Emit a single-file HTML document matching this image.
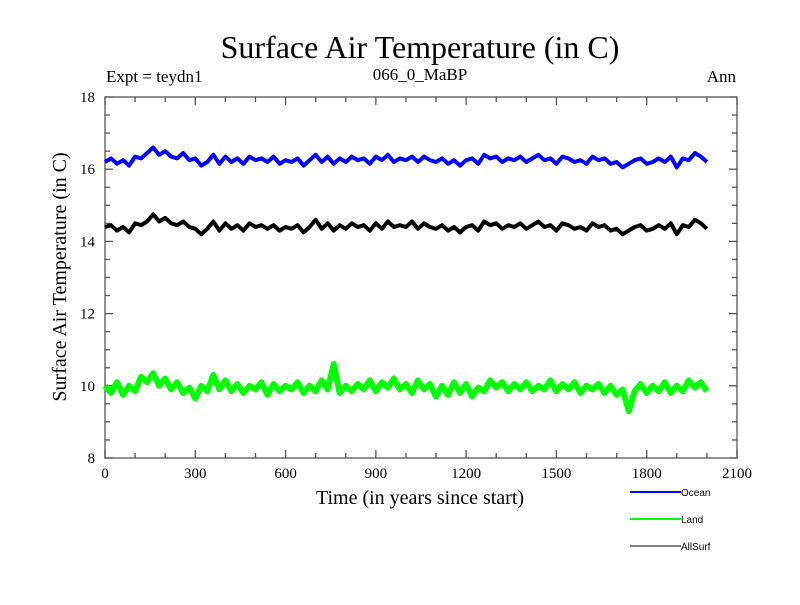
<!DOCTYPE html>
<html><head><meta charset="utf-8"><style>
body{margin:0;background:#fff}
svg text{font-family:"Liberation Serif",serif}
</style></head><body>
<svg id="chart" width="800" height="600" xmlns="http://www.w3.org/2000/svg">
<text x="420" y="58" font-size="32" text-anchor="middle">Surface Air Temperature (in C)</text>
<text x="106" y="82" font-size="17">Expt = teydn1</text>
<text x="420" y="80" font-size="17" text-anchor="middle">066_0_MaBP</text>
<text x="736" y="82" font-size="17" text-anchor="end">Ann</text>
<text x="0" y="0" font-size="20" text-anchor="middle" transform="translate(66,277) rotate(-90)">Surface Air Temperature (in C)</text>
<text x="420" y="504" font-size="20" text-anchor="middle">Time (in years since start)</text>
<g id="axes"></g>
<g id="series"></g>
<g id="legend"></g>
</svg>
<script>
const years = [];
for (let i = 0; i <= 100; i++) years.push(i * 20);
const oceanValues = [16.2,16.3,16.15,16.25,16.1,16.35,16.3,16.45,16.6,16.4,16.5,16.35,16.3,16.45,16.25,16.3,16.1,16.2,16.4,16.15,16.35,16.2,16.3,16.15,16.35,16.25,16.3,16.2,16.35,16.15,16.25,16.2,16.3,16.1,16.25,16.4,16.2,16.35,16.15,16.3,16.2,16.35,16.25,16.3,16.15,16.35,16.25,16.4,16.2,16.3,16.25,16.35,16.2,16.35,16.25,16.2,16.3,16.15,16.25,16.1,16.25,16.3,16.15,16.4,16.3,16.35,16.2,16.3,16.25,16.35,16.2,16.3,16.4,16.25,16.3,16.15,16.35,16.3,16.2,16.25,16.15,16.35,16.25,16.3,16.15,16.2,16.05,16.15,16.25,16.3,16.15,16.2,16.3,16.2,16.35,16.05,16.3,16.25,16.45,16.35,16.2];
const allSurfValues = [14.4,14.45,14.3,14.4,14.25,14.5,14.45,14.55,14.75,14.55,14.65,14.5,14.45,14.55,14.4,14.35,14.2,14.35,14.55,14.3,14.5,14.35,14.45,14.3,14.5,14.4,14.45,14.35,14.45,14.3,14.4,14.35,14.45,14.25,14.4,14.6,14.35,14.5,14.3,14.45,14.35,14.5,14.4,14.45,14.3,14.5,14.35,14.55,14.4,14.45,14.4,14.55,14.35,14.5,14.4,14.35,14.45,14.3,14.4,14.25,14.4,14.45,14.3,14.55,14.45,14.5,14.35,14.45,14.4,14.5,14.35,14.45,14.55,14.4,14.45,14.3,14.5,14.45,14.35,14.4,14.3,14.5,14.4,14.45,14.3,14.35,14.2,14.3,14.4,14.45,14.3,14.35,14.45,14.35,14.5,14.2,14.45,14.4,14.6,14.5,14.35];
const landValues = [10.0,9.8,10.1,9.75,10.0,9.85,10.25,10.1,10.35,10.0,10.2,9.9,10.1,9.8,9.95,9.65,10.0,9.85,10.3,9.9,10.15,9.85,10.05,9.8,10.0,9.9,10.1,9.75,10.05,9.85,10.0,9.9,10.1,9.8,10.0,9.85,10.15,9.9,10.6,9.8,10.0,9.85,10.05,9.9,10.15,9.85,10.1,9.95,10.2,9.9,10.05,9.8,10.15,9.9,10.05,9.7,10.0,9.75,10.1,9.8,10.05,9.7,9.95,9.85,10.15,9.95,10.1,9.85,10.05,9.9,10.1,9.85,10.0,9.9,10.15,9.85,10.05,9.9,10.1,9.8,10.0,9.9,10.05,9.8,10.0,9.75,9.9,9.3,9.85,10.05,9.8,10.0,9.85,10.1,9.8,10.0,9.85,10.15,9.95,10.1,9.85];
const xTickLabels = [0,300,600,900,1200,1500,1800,2100];
const yTickLabels = [8,10,12,14,16,18];

const L=105,R=737,T=97,B=458;
const xScale = v => L + (v/2100)*(R-L);
const yScale = v => B - ((v-8)/10)*(B-T);
const NS="http://www.w3.org/2000/svg";
function mk(tag, attrs, parent){const e=document.createElementNS(NS,tag);for(const k in attrs)e.setAttribute(k,attrs[k]);parent.appendChild(e);return e;}
const axes=document.getElementById('axes');
const frame=mk('rect',{x:L,y:T,width:R-L,height:B-T,fill:'none',stroke:'#555','stroke-width':1.3},axes);


for(let v=0;v<=2100;v+=100){
  const x=xScale(v), len=(v%300===0)?8:5;
  const t1=mk('line',{x1:x,x2:x,y1:B,y2:B-len,stroke:'#555','stroke-width':1.3},axes);
  
  
  const t2=mk('line',{x1:x,x2:x,y1:T,y2:T+len,stroke:'#555','stroke-width':1.3},axes);
  
  
}
for(let v=8;v<=18;v+=0.5){
  const y=yScale(v), len=(v%2===0)?8:5;
  const t1=mk('line',{x1:L,x2:L+len,y1:y,y2:y,stroke:'#555','stroke-width':1.3},axes);
  
  
  const t2=mk('line',{x1:R,x2:R-len,y1:y,y2:y,stroke:'#555','stroke-width':1.3},axes);
  
  
}
xTickLabels.forEach(v=>{
  const t=mk('text',{x:xScale(v),y:B+20,'font-size':15,'text-anchor':'middle'},axes);
  t.textContent=v;
  
  
});
yTickLabels.forEach(v=>{
  const t=mk('text',{x:L-10,y:yScale(v)+5,'font-size':15,'text-anchor':'end'},axes);
  t.textContent=v;
  
  
});
const series=document.getElementById('series');
function drawLine(vals,color,name,w){
  const d=vals.map((v,i)=>(i?'L':'M')+xScale(years[i]).toFixed(1)+','+yScale(v).toFixed(1)).join(' ');
  const p=mk('path',{d:d,fill:'none',stroke:color,'stroke-width':w,'stroke-linejoin':'round'},series);
  
  
}
drawLine(oceanValues,'#0000ff','ocean-line',4);
drawLine(landValues,'#00ff00','land-line',6);
drawLine(allSurfValues,'#000000','allsurf-line',4);
const legend=document.getElementById('legend');
[['Ocean','#0000ff',2,492],['Land','#00ff00',2,519],['AllSurf','#000000',1,546]].forEach(([lab,c,w,y])=>{
  const l=mk('line',{x1:630,x2:681,y1:y,y2:y,stroke:c,'stroke-width':w},legend);
  
  
  const t=mk('text',{x:681,y:y+4,'font-size':10},legend);
  t.setAttribute('style','font-family:"Liberation Sans",sans-serif');
  t.textContent=lab;
  
  
});
</script>
</body></html>
